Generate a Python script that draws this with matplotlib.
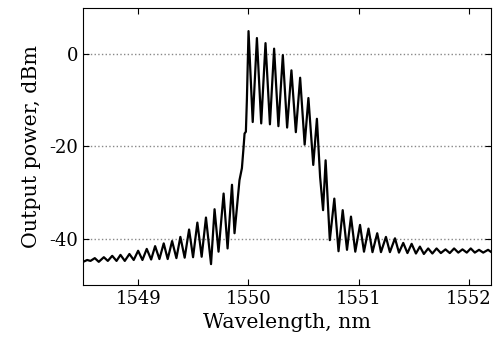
import numpy as np
import matplotlib
matplotlib.use("Agg")
import matplotlib.pyplot as plt

# spectrum trace (wavelength in nm, power in dBm)
wavelength = [
    1548.502, 1548.538, 1548.568, 1548.607, 1548.643, 1548.689, 1548.725, 1548.765,
    1548.804, 1548.840, 1548.879, 1548.921, 1548.960, 1549.000, 1549.039, 1549.078,
    1549.118, 1549.154, 1549.193, 1549.232, 1549.268, 1549.308, 1549.347, 1549.383,
    1549.422, 1549.462, 1549.498, 1549.537, 1549.576, 1549.615, 1549.661, 1549.693,
    1549.729, 1549.775, 1549.811, 1549.851, 1549.874, 1549.919, 1549.941, 1549.956,
    1549.965, 1549.977, 1549.986, 1550.001, 1550.039, 1550.077, 1550.116, 1550.155,
    1550.195, 1550.233, 1550.272, 1550.312, 1550.351, 1550.390, 1550.430, 1550.469,
    1550.510, 1550.544, 1550.588, 1550.621, 1550.650, 1550.677, 1550.700, 1550.738,
    1550.779, 1550.817, 1550.855, 1550.894, 1550.930, 1550.969, 1551.012, 1551.048,
    1551.089, 1551.125, 1551.168, 1551.202, 1551.247, 1551.283, 1551.329, 1551.365,
    1551.404, 1551.442, 1551.480, 1551.519, 1551.555, 1551.591, 1551.630, 1551.668,
    1551.706, 1551.745, 1551.787, 1551.826, 1551.865, 1551.903, 1551.941, 1551.980,
    1552.016, 1552.053, 1552.091, 1552.129, 1552.173, 1552.197,
]
power = [
    -45.0, -44.6, -44.8, -44.2, -45.0, -44.0, -44.8, -43.7,
    -44.8, -43.5, -44.8, -43.3, -44.6, -42.6, -44.6, -42.2,
    -44.5, -41.6, -44.4, -41.0, -44.4, -40.5, -44.2, -39.6,
    -44.1, -38.0, -44.0, -36.5, -43.9, -35.4, -45.5, -33.6,
    -42.8, -30.2, -42.1, -28.3, -38.8, -27.3, -24.7, -20.2,
    -17.2, -16.8, -10.0, 5.0, -14.7, 3.5, -15.0, 2.4,
    -15.2, 1.2, -15.6, -0.2, -15.9, -3.5, -16.9, -5.1,
    -19.6, -9.5, -24.0, -14.0, -26.6, -33.8, -23.0, -40.3,
    -31.3, -42.7, -33.8, -42.4, -35.2, -42.8, -37.0, -42.8,
    -37.8, -42.9, -38.8, -42.9, -39.6, -42.9, -39.9, -43.0,
    -40.9, -43.1, -41.1, -43.2, -41.7, -43.3, -42.1, -43.2,
    -42.1, -43.1, -42.3, -43.1, -42.1, -43.0, -42.3, -43.0,
    -42.1, -43.0, -42.4, -43.0, -42.4, -42.8,
]

x_ticks = [1549, 1550, 1551, 1552]
y_ticks = [-40, -20, 0]

plt.rcParams["font.family"] = ["DejaVu Serif"]
plt.rcParams["axes.unicode_minus"] = False

fig = plt.figure(figsize=(4.94, 3.5), dpi=100)
ax = fig.add_axes([0.168, 0.186, 0.826, 0.791])

ax.plot(wavelength, power, color="black", linewidth=1.6, solid_joinstyle="round")

ax.set_xlim(1548.5, 1552.2)
ax.set_ylim(-50, 10)
ax.set_xticks(x_ticks)
ax.set_yticks(y_ticks)
ax.yaxis.grid(True, linestyle=":", color="#888888", linewidth=1.0)
ax.tick_params(direction="in", top=True, right=True, length=4, labelsize=13)

ax.set_xlabel("Wavelength, nm", fontsize=14.8)
ax.set_ylabel("Output power, dBm", fontsize=14.8, labelpad=6)

fig.savefig("out.png", dpi=100)
